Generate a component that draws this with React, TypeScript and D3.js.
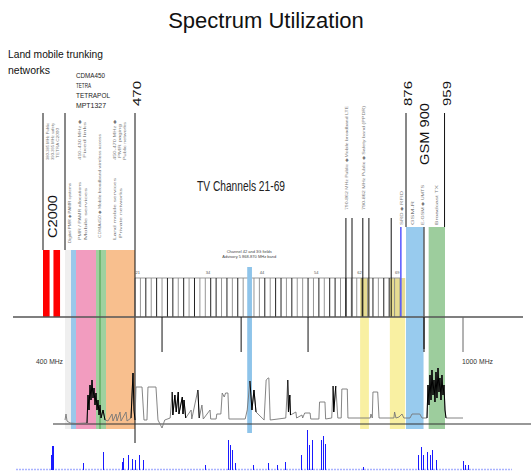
import React from "react";
import * as d3 from "d3";

const W = 531;
const H = 473;

// ---------- data ----------
// non-linear schematic frequency axis (MHz)
const freqAnchors = [380, 400, 470, 862, 876, 915, 960, 1000];
const pixelAnchors = [43, 65, 135, 400, 406, 424, 445, 463];

const c2000Blocks: [number, number][] = [[380, 386], [389.5, 395.5]];

const lowBandNames = ["Guard", "PMR", "PAMR", "TETRA", "CDMA450"];
const lowBandStart = [400, 406, 411, 431, 441];
const lowBandEnd = [406, 411, 431, 441, 470];
const lowBandColors = ["#efefef", "#9ac8ea", "#f29cbf", "#9fd19f", "#f8bf8e"];

const yellowBands: [number, number][] = [[803, 816], [847, 874]];
const tvBlueBand: [number, number] = [636, 643];
const gsmUplink: [number, number] = [876, 914];
const gsmDownlink: [number, number] = [925, 960];

const firstChannel = 21;
const lastChannel = 69;
const channelWidth = 8; // MHz
const busyChannelEdges = [23, 25, 27, 28, 30, 32, 35, 36, 38, 40, 42, 45, 47, 48, 50, 53, 55, 57, 58, 60, 63, 65, 67, 68];
const channelLabels = [21, 34, 44, 54, 62, 69];
const scaleTicks = [510, 627, 726, 915, 1000];
const tallMarkers = [782, 791, 807, 816, 849];
const boundaryLabels = ["470", "876", "959"];
const boundaryFreqs = [470, 876, 959];

// measured spectrum trace: [MHz, dB above floor]
const traceData: [number, number][] = [
  [400, 4], [401, 10], [402, 3], [405, 1], [411, 0.5], [422, 1], [423, 29], [424, 14], [425, 39], [426, 24],
  [427, 44], [428, 26], [429, 36], [430, 19], [431, 31], [432, 14], [433, 24], [434, 9], [435, 19], [436, 6],
  [438, 14], [440, 4], [443, 3], [447, 10], [448, 3], [451, 10], [452, 3], [455, 12], [456, 3], [461, 12],
  [462, 3], [466, 6], [468, 51], [469, 14],
  [470, 4], [471.5, 37], [480.4, 37], [483.3, 4], [487.7, 4], [489.2, 37], [501, 37], [504, 4], [510, -4],
  [514, 4], [522, 6], [525, 32], [526, 9], [529, 29], [531, 12], [534, 32], [535, 10], [540, 27], [541, 10],
  [542.5, 24], [545, 6], [553, 14], [554, 5], [563, 34], [565, 6], [569, 19], [571, 5], [581, 14], [582, 5],
  [590, 5], [591, 10], [597, 10], [599, 31], [602, 27], [604, 31], [607.5, 31], [609, 5], [633, 5], [636, 14],
  [640, 43], [643, 14], [646, 34], [649, 12], [658, 6], [661, 4], [664, 44], [667, 46], [668, 46], [670, 4],
  [693, 6], [696, 44], [697, 12], [699, 29], [700, 9], [708, 12], [709, 6], [717, 9], [718, 6], [721, 11],
  [729, 11], [730, 5], [742, 5], [743, 22], [751, 22], [752, 5], [761, 6], [763, 38], [764, 12], [767, 38],
  [770, 6], [775, 6], [776, 35], [784, 35], [785, 6], [818, 6], [819, 10], [821, 6], [822, 32], [829, 32],
  [831, 6], [853, 6], [854, 12], [856, 6], [860.5, 7],
  [866.7, 10], [871, 6], [884.7, 6], [889, 10], [906, 10], [910.7, 6],
  [921.4, 6], [923.6, 39], [925.7, 19], [927.8, 49], [930, 24], [932.1, 54], [934.3, 29], [936.4, 44],
  [938.5, 22], [940.7, 52], [942.8, 26], [945, 56], [947.1, 32], [949.2, 46], [951.4, 24], [953.5, 49],
  [955.7, 29], [957.8, 39], [960, 14], [962.2, 6], [1000, 6],
];
const denseRanges: [number, number][] = [[422, 440], [466, 470], [524, 545], [562, 566], [638, 650], [695, 700], [762, 768], [921, 963]];

// occupancy strip: [bin, level]
const occupancyBins: [number, number][] = [
  [35, 15], [36, 24], [37, 24], [67, 7], [87, 18], [106, 8], [107, 12], [112, 15], [116, 11], [119, 10],
  [123, 15], [127, 10], [189, 5], [212, 30], [214, 25], [216, 20], [219, 7], [237, 5], [252, 7], [261, 5],
  [269, 8], [285, 15], [291, 40], [293, 25], [296, 30], [305, 30], [307, 34], [309, 26], [347, 3],
  [402, 15], [405, 23], [407, 15], [411, 18], [414, 15], [416, 20], [420, 10], [447, 9], [449, 5], [452, 5],
];

// ---------- layout ----------
const Y = {
  lineTop: 113, lowBandTop: 250, gsmTop: 227, tallTop: 218, tvBandTop: 267, hatchTop: 278,
  base: 317, tickEnd: 352, traceBase: 424, bandBottom: 429, tvBandBottom: 433, line470End: 443, occBase: 470,
};
const FONT = "'Liberation Sans', Arial, Helvetica, sans-serif";

const x = d3.scaleLinear().domain(freqAnchors).range(pixelAnchors);
const yTrace = d3.scaleLinear().domain([0, 60]).range([Y.traceBase, Y.traceBase - 60]);
const xOcc = d3.scaleLinear().domain([0, 496]).range([16, 512]);
const yOcc = d3.scaleLinear().domain([0, 40]).range([Y.occBase, Y.occBase - 40]);

const traceLine = d3.line<[number, number]>().x((d) => x(d[0])).y((d) => yTrace(d[1]));

function VText(props: { x: number; y: number; size: number; len?: number; fill?: string; children: React.ReactNode }) {
  const { x: tx, y: ty, size, len, fill = "#111", children } = props;
  return (
    <text transform={`translate(${tx},${ty}) rotate(-90)`} fontSize={size} fontFamily={FONT} fill={fill}
      textLength={len} lengthAdjust={len ? "spacingAndGlyphs" : undefined}>
      {children}
    </text>
  );
}

function Tiny(props: { x: number; y: number; len: number; children: React.ReactNode }) {
  return <VText x={props.x} y={props.y} size={4.2} len={props.len} fill="#777">{props.children}</VText>;
}

export default function App() {
  const edges = d3.range(firstChannel, lastChannel + 2).map((n) => ({ n, f: 470 + (n - firstChannel) * channelWidth }));

  return (
    <div style={{ position: "absolute", left: 0, top: 0 }}>
      <svg width={W} height={H} style={{ display: "block", background: "#fff" }}>
        {/* title */}
        <text x={266} y={28} textAnchor="middle" fontSize={22} fontFamily={FONT} fill="#111">Spectrum Utilization</text>

        <text x={8} y={58} fontSize={11} fontFamily={FONT} textLength={95} lengthAdjust="spacingAndGlyphs" fill="#111">Land mobile trunking</text>
        <text x={8} y={74} fontSize={11} fontFamily={FONT} textLength={42} lengthAdjust="spacingAndGlyphs" fill="#111">networks</text>
        {["CDMA450", "TETRA", "TETRAPOL", "MPT1327"].map((t, i) => (
          <text key={t} x={76} y={78 + i * 10} fontSize={7.5} fontFamily={FONT} fill="#222"
            textLength={[29, 15, 34, 30][i]} lengthAdjust="spacingAndGlyphs">{t}</text>
        ))}

        {/* low-band allocations */}
        {lowBandNames.map((nm, i) => (
          <rect key={nm} x={x(lowBandStart[i])} y={Y.lowBandTop} width={x(lowBandEnd[i]) - x(lowBandStart[i])}
            height={Y.bandBottom - Y.lowBandTop} fill={lowBandColors[i]} />
        ))}
        <rect x={x(434)} y={Y.lowBandTop} width={x(436) - x(434)} height={Y.bandBottom - Y.lowBandTop} fill="#72b872" />

        {/* C2000 blocks */}
        {c2000Blocks.map((b, i) => (
          <rect key={i} x={x(b[0])} y={Y.lowBandTop} width={x(b[1]) - x(b[0])} height={Y.base - Y.lowBandTop} fill="#ff0000" />
        ))}

        {/* yellow bands */}
        {yellowBands.map((b, i) => (
          <g key={i}>
            <rect x={x(b[0])} y={Y.hatchTop} width={x(b[1]) - x(b[0])} height={Y.bandBottom - Y.hatchTop} fill="#f9f0a2" />
            <rect x={x(b[0])} y={Y.hatchTop} width={x(b[1]) - x(b[0])} height={Y.base - Y.hatchTop} fill="#d9cf86" opacity={0.6} />
          </g>
        ))}

        {/* TV channel raster */}
        <line x1={x(470)} x2={x(862)} y1={Y.hatchTop} y2={Y.hatchTop} stroke="#999" strokeWidth={1} />
        {edges.map((e) => {
          const busy = busyChannelEdges.includes(e.n);
          return (
            <line key={e.n} x1={x(e.f)} x2={x(e.f)} y1={Y.hatchTop} y2={Y.base}
              stroke={busy ? "#222" : "#8a8a8a"} strokeWidth={busy ? 1 : 0.9} />
          );
        })}
        {channelLabels.map((c) => (
          <text key={c} x={x(470 + (c - firstChannel + 0.5) * channelWidth)} y={Y.hatchTop - 4} fontSize={4}
            fontFamily={FONT} textAnchor="middle" fill="#555">{c}</text>
        ))}

        {/* TV band marker */}
        <rect x={x(tvBlueBand[0])} y={Y.tvBandTop} width={x(tvBlueBand[1]) - x(tvBlueBand[0])}
          height={Y.tvBandBottom - Y.tvBandTop} fill="#8ec4ea" />
        <text x={x(639)} y={Y.tvBandTop - 14} fontSize={4} fontFamily={FONT} textAnchor="middle" fill="#444">Channel 42 and 3G fields</text>
        <text x={x(639)} y={Y.tvBandTop - 9} fontSize={4} fontFamily={FONT} textAnchor="middle" fill="#444">Advisory 5 868-870 MHz band</text>

        {/* GSM bands */}
        <rect x={x(gsmUplink[0])} y={Y.gsmTop} width={x(gsmUplink[1]) - x(gsmUplink[0])} height={Y.bandBottom - Y.gsmTop} fill="#98cbee" />
        <rect x={x(gsmDownlink[0])} y={Y.gsmTop} width={x(gsmDownlink[1]) - x(gsmDownlink[0])} height={Y.bandBottom - Y.gsmTop} fill="#9dcd9d" />
        <line x1={x(864)} x2={x(864)} y1={Y.gsmTop} y2={Y.base} stroke="#5555ff" strokeWidth={1.5} />
        <line x1={x(915)} x2={x(915)} y1={Y.gsmTop} y2={349} stroke="#111" strokeWidth={1} />

        {/* tall markers in 800 MHz area */}
        {tallMarkers.map((f) => (
          <line key={f} x1={x(f)} x2={x(f)} y1={Y.tallTop} y2={Y.base} stroke="#111" strokeWidth={1} />
        ))}

        {/* boundaries */}
        <line x1={x(380)} x2={x(380)} y1={Y.lineTop} y2={Y.lowBandTop} stroke="#111" />
        <line x1={x(400)} x2={x(400)} y1={Y.lineTop} y2={Y.lowBandTop} stroke="#111" />
        <line x1={x(470)} x2={x(470)} y1={Y.lineTop} y2={Y.line470End} stroke="#111" />
        <line x1={x(876)} x2={x(876)} y1={Y.lineTop} y2={Y.gsmTop} stroke="#111" />
        <line x1={x(959)} x2={x(959)} y1={Y.lineTop} y2={Y.gsmTop} stroke="#111" />
        {boundaryFreqs.map((f, i) => (
          <VText key={f} x={x(f) + 6} y={106} size={11} len={25}>{boundaryLabels[i]}</VText>
        ))}
        <VText x={429} y={165} size={12} len={62}>GSM 900</VText>
        <VText x={57} y={238} size={12} len={43}>C2000</VText>

        {/* main axis */}
        <line x1={13} x2={523} y1={Y.base} y2={Y.base} stroke="#555" strokeWidth={1.5} />
        {scaleTicks.map((f) => (
          <line key={f} x1={x(f)} x2={x(f)} y1={Y.base} y2={Y.tickEnd} stroke={f === 1000 ? "#666" : "#111"} strokeWidth={1} />
        ))}
        <text x={63} y={364} fontSize={7.5} fontFamily={FONT} textAnchor="end" textLength={27} lengthAdjust="spacingAndGlyphs" fill="#333">400 MHz</text>
        <text x={462} y={364} fontSize={7.5} fontFamily={FONT} textLength={31} lengthAdjust="spacingAndGlyphs" fill="#333">1000 MHz</text>
        <text x={197} y={191} fontSize={14} fontFamily={FONT} textLength={88} lengthAdjust="spacingAndGlyphs" fill="#222">TV Channels 21-69</text>

        {/* small rotated annotations */}
        <Tiny x={49} y={160} len={37}>380-385 MHz Public</Tiny>
        <Tiny x={54} y={160} len={37}>390-395 MHz safety</Tiny>
        <Tiny x={59} y={158} len={30}>TETRA C2000</Tiny>
        <Tiny x={71} y={243} len={60}>Digital PMR ◆ PAMR systems</Tiny>
        <Tiny x={81} y={160} len={40}>410-430 MHz ◆</Tiny>
        <Tiny x={86} y={158} len={36}>Fixed links</Tiny>
        <Tiny x={81} y={240} len={58}>PMR / PAMR allocations</Tiny>
        <Tiny x={87} y={240} len={52}>Mobile services</Tiny>
        <Tiny x={101} y={238} len={104}>CDMA450 ◆ Mobile broadband wireless access</Tiny>
        <Tiny x={116} y={160} len={40}>450-470 MHz ◆</Tiny>
        <Tiny x={121} y={158} len={34}>PMR paging</Tiny>
        <Tiny x={126} y={160} len={38}>Public networks</Tiny>
        <Tiny x={116} y={240} len={62}>Land mobile services</Tiny>
        <Tiny x={122} y={238} len={50}>Private networks</Tiny>
        <Tiny x={348} y={210} len={104}>790-862 MHz Public ◆ Mobile broadband LTE</Tiny>
        <Tiny x={365} y={210} len={104}>790-862 MHz Public ◆ Safety band (PPDR)</Tiny>
        <Tiny x={403} y={225} len={34}>SRD ◆ RFID</Tiny>
        <Tiny x={414} y={225} len={24}>GSM-R</Tiny>
        <Tiny x={424} y={225} len={40}>E-GSM ◆ UMTS</Tiny>
        <Tiny x={438} y={225} len={40}>Broadcast TX</Tiny>

        {/* spectrum trace */}
        <line x1={53} x2={531} y1={Y.traceBase} y2={Y.traceBase} stroke="#333" strokeWidth={1.2} />
        <path d={traceLine(traceData) || ""} fill="none" stroke="#777" strokeWidth={0.9} />
        {denseRanges.map((r, i) => (
          <path key={i} d={traceLine(traceData.filter((d) => d[0] >= r[0] && d[0] <= r[1])) || ""} fill="none" stroke="#000" strokeWidth={1} />
        ))}

        {/* occupancy strip */}
        <line x1={xOcc(0)} x2={xOcc(496)} y1={Y.occBase - 0.5} y2={Y.occBase - 0.5} stroke="#aab3ff" strokeWidth={1.6} strokeDasharray="2,1" />
        {occupancyBins.map((d, i) => (
          <line key={i} x1={Math.round(xOcc(d[0])) + 0.5} x2={Math.round(xOcc(d[0])) + 0.5} y1={yOcc(0)} y2={yOcc(d[1])}
            stroke="#1a1aff" strokeWidth={1} shapeRendering="crispEdges" />
        ))}
      </svg>
    </div>
  );
}
